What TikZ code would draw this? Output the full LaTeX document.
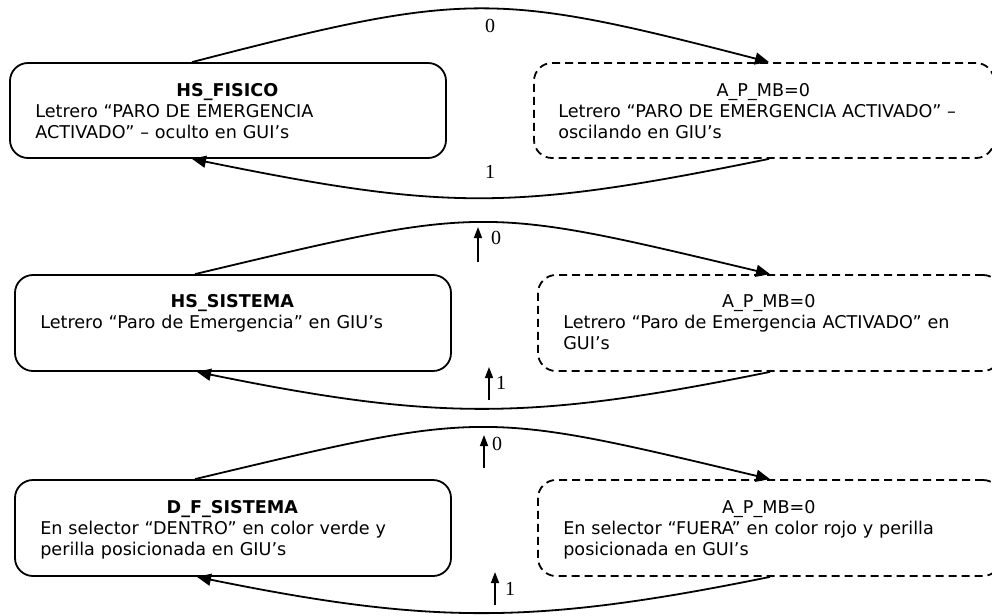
\documentclass[tikz,border=0pt]{standalone}
\usepackage{fontspec}
\setmainfont{DejaVu Sans}
\newfontfamily\tnr{Liberation Serif}
\usetikzlibrary{arrows.meta}
\tikzset{
  box/.style={draw=black, line width=1.8pt, rounded corners=18pt, inner sep=0pt},
  solidbox/.style={box},
  dashbox/.style={box, dash pattern=on 8pt off 5pt},
  boxtext/.style={anchor=north west, inner sep=0pt, align=left, font=\fontsize{17.6}{21}\selectfont},
  arc/.style={line width=1.8pt, -{Triangle[length=14pt,width=12pt]}},
  upar/.style={line width=1.5pt, -{Triangle[length=11pt,width=8pt]}},
  lbl/.style={inner sep=0pt, font=\tnr\fontsize{20}{20}\selectfont}
}
\begin{document}
\begin{tikzpicture}[x=1pt,y=-1pt]
\useasboundingbox[fill=white] (0,0) rectangle (992,615);
% Row 1
\node[solidbox, minimum width=436pt, minimum height=95pt] (L1) at (228,110.5) {};
\node[dashbox, minimum width=460pt, minimum height=95pt] (R1) at (764,110.5) {};
\node[boxtext, text width=384pt] (tL1) at ([xshift=26pt,yshift=-21pt]L1.north west)
  {\makebox[\linewidth]{\bfseries HS\_FISICO}\\Letrero “PARO DE EMERGENCIA\\ACTIVADO” – oculto en GUI’s};
\node[boxtext, text width=410pt] (tR1) at ([xshift=25pt,yshift=-21pt]R1.north west)
  {\makebox[\linewidth]{A\_P\_MB=0}\\Letrero “PARO DE EMERGENCIA ACTIVADO” –\\oscilando en GIU’s};
\draw[arc] ([xshift=-36pt]L1.north) to[out=14.5,in=165.5,distance=284pt] ([xshift=5pt]R1.north);
\draw[arc] ([xshift=5pt]R1.south) to[out=191.5,in=348.5,distance=261pt] ([xshift=-36pt]L1.south);
\node[lbl] (z1) at (490,25.5) {0};
\node[lbl] (o1) at (490,172) {1};
% Row 2
\node[solidbox, minimum width=436pt, minimum height=96pt] (L2) at (233,323) {};
\node[dashbox, minimum width=463pt, minimum height=96pt] (R2) at (769.5,323) {};
\node[boxtext, text width=384pt] (tL2) at ([xshift=26pt,yshift=-20pt]L2.north west)
  {\makebox[\linewidth]{\bfseries HS\_SISTEMA}\\Letrero “Paro de Emergencia” en GIU’s};
\node[boxtext, text width=411pt] (tR2) at ([xshift=26pt,yshift=-20pt]R2.north west)
  {\makebox[\linewidth]{A\_P\_MB=0}\\Letrero “Paro de Emergencia ACTIVADO” en\\GUI’s};
\draw[arc] ([xshift=-38pt]L2.north) to[out=13.4,in=166.6,distance=298pt] ([xshift=0.5pt]R2.north);
\draw[arc] ([xshift=0.5pt]R2.south) to[out=191.5,in=348.5,distance=245pt] ([xshift=-36pt]L2.south);
\coordinate (a2s) at (478,262); \coordinate (a2e) at (478,227);
\coordinate (b2s) at (489,400); \coordinate (b2e) at (489,367);
\draw[upar] (a2s) -- (a2e);
\draw[upar] (b2s) -- (b2e);
\node[lbl] (z2) at (496,238) {0};
\node[lbl] (o2) at (501,383) {1};
% Row 3
\node[solidbox, minimum width=436pt, minimum height=96pt] (L3) at (233,528) {};
\node[dashbox, minimum width=463pt, minimum height=96pt] (R3) at (769.5,528) {};
\node[boxtext, text width=384pt] (tL3) at ([xshift=26pt,yshift=-21pt]L3.north west)
  {\makebox[\linewidth]{\bfseries D\_F\_SISTEMA}\\En selector “DENTRO” en color verde y\\perilla posicionada en GIU’s};
\node[boxtext, text width=411pt] (tR3) at ([xshift=26pt,yshift=-21pt]R3.north west)
  {\makebox[\linewidth]{A\_P\_MB=0}\\En selector “FUERA” en color rojo y perilla\\posicionada en GUI’s};
\draw[arc] ([xshift=-38pt]L3.north) to[out=13.4,in=166.6,distance=298pt] ([xshift=0.5pt]R3.north);
\draw[arc] ([xshift=0.5pt]R3.south) to[out=191.5,in=348.5,distance=240pt] ([xshift=-36pt]L3.south);
\coordinate (a3s) at (484,468); \coordinate (a3e) at (484,435);
\coordinate (b3s) at (495,605); \coordinate (b3e) at (495,572);
\draw[upar] (a3s) -- (a3e);
\draw[upar] (b3s) -- (b3e);
\node[lbl] (z3) at (497,444) {0};
\node[lbl] (o3) at (510,589) {1};
\end{tikzpicture}
\end{document}
